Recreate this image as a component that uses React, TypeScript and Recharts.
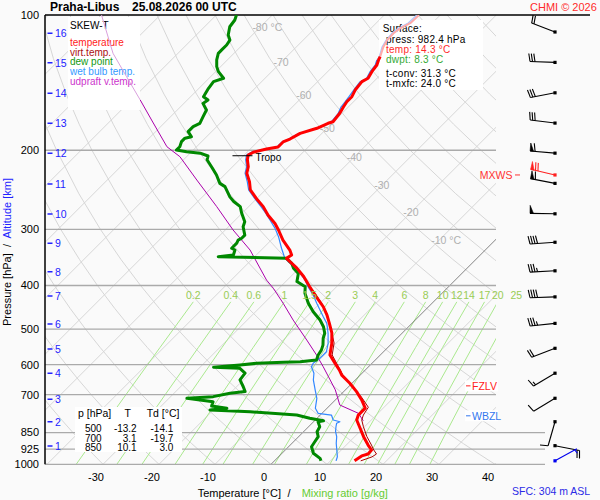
import React from 'react'
import { ComposedChart, Line, Scatter, XAxis, YAxis, ReferenceLine } from 'recharts'

if (typeof document !== 'undefined') document.body.style.margin = '0'

const FONT = '"Liberation Sans", Arial, Helvetica, sans-serif'
const BG = '#fafafa'

// sounding, surface -> top (hPa, °C)
const TEMP_P = [982.4, 958, 948.6, 929.4, 906, 868, 825, 797, 777, 750, 719, 689, 660, 633, 617, 595, 571, 537, 510, 485, 465, 446, 424, 402.5, 382, 366, 354, 348, 342, 333.5, 317, 301, 291, 279, 267, 256, 245, 235, 225, 217.6, 210, 205, 202, 198.7, 196.7, 191.7, 188.8, 183.4, 178.7, 174.2, 172.8, 165.5, 160, 156, 152, 146.9, 140.7, 138.3, 133.7, 129.2, 125.9, 123.8]
const TEMP_C = [14.3, 14.7, 15.5, 15.4, 13.9, 11.6, 9.1, 7.4, 6.8, 6.8, 4.7, 2.3, -0.4, -3.3, -4.6, -6.7, -9.0, -10.8, -12.6, -14.8, -16.7, -18.8, -21.8, -24.8, -27.7, -30.4, -32.8, -34.0, -33.7, -34.9, -37.9, -40.5, -42.3, -45.0, -47.4, -50.1, -52.7, -54.3, -56.3, -57.2, -58.6, -59.3, -58.9, -57.1, -55.4, -55.4, -54.7, -53.9, -51.8, -50.7, -50.1, -50.4, -50.9, -51.2, -51.2, -51.8, -52.1, -51.6, -52.1, -52.4, -53.0, -53.3]
const TEMP_TOP_P = [123.8, 117.6, 113.7, 109.8, 107.1, 104.3, 100]
const TEMP_TOP_C = [-53.3, -54.5, -55.0, -55.1, -54.8, -53.9, -53.8]

const VIRT_P = [982.4, 963, 948.6, 929.4, 906, 868, 825, 797, 777, 746.6, 708, 666, 633, 595, 571, 537, 510, 485, 465, 446, 424, 402.5]
const VIRT_C = [15.4, 16.7, 17.0, 15.8, 14.5, 12.2, 9.8, 8.3, 7.7, 7.2, 4.1, 0.1, -3.1, -6.4, -8.6, -10.4, -12.6, -14.8, -16.6, -18.7, -21.6, -24.7]

const DEW_P = [982.4, 970, 945, 914, 891, 868, 846, 825, 804, 800, 790, 777, 764, 757, 750, 742, 726, 713, 707, 695, 689, 672, 649, 627, 611.5, 608, 601, 596, 593, 591, 586, 571, 557, 543, 524, 511, 494, 477.5, 457.6, 438, 416, 402.5, 392, 376, 366, 357, 348, 345, 342, 333.5, 330.5, 322, 317, 314, 309, 296, 288.5, 276, 267, 260, 254, 241, 237, 227, 219, 210, 206, 203, 201.5, 199.8, 196.4, 191.4, 188, 186.6, 181.8, 177.2, 174.2, 168.4, 162.7, 157.3, 154.6, 152, 145.6, 140.7, 138.3, 133.7, 130.3, 125.9, 121.7, 119.6, 116.6, 113.7, 110.8, 106.2, 102.6, 100]
const DEW_C = [8.3, 7.7, 5.6, 4.1, 3.8, 3.5, 2.4, 2.0, 0.8, 1.6, -1.3, -4.2, -13.1, -20.6, -17.9, -21.0, -21.5, -26.8, -22.4, -20.0, -17.6, -18.8, -20.6, -20.9, -22.7, -27.6, -23.3, -20.6, -16.0, -13.1, -10.5, -11.1, -11.4, -12.0, -13.2, -13.8, -15.2, -17.0, -19.7, -22.1, -24.5, -25.6, -28.0, -29.2, -31.0, -32.2, -34.0, -46.5, -44.1, -44.7, -45.6, -45.6, -45.9, -45.6, -45.6, -47.4, -48.0, -50.1, -51.5, -53.6, -55.1, -57.8, -59.3, -61.4, -63.4, -65.8, -66.3, -68.2, -70.9, -73.0, -73.0, -73.6, -73.6, -72.7, -74.2, -74.2, -73.6, -74.2, -74.8, -76.6, -76.3, -77.7, -78.3, -78.6, -77.4, -79.5, -80.7, -81.9, -82.8, -82.8, -82.8, -83.1, -84.3, -85.5, -85.8, -86.4]

const WET_P = [982.4, 962, 929.4, 898, 868, 846, 825, 810.6, 804, 797, 777, 770, 750, 713, 683, 649, 627, 606.5, 596, 581, 561.7, 538, 511, 485.7, 469.6, 453.6, 438, 420, 402.5, 389, 366, 354, 348, 330.5, 311.5, 298.5, 286, 276, 267, 256, 245, 235, 225, 217.6, 210, 205, 202, 198.7, 196.7, 191.7, 188.8, 184, 179.4, 174.9, 173.1, 166.1, 160.3, 156.2, 152.2, 147.6, 140.9, 138.8, 133.9, 129.2, 125.9]
const WET_C = [11.0, 10.5, 9.2, 7.9, 6.8, 5.7, 4.9, 4.4, 4.7, 3.2, 2.0, -0.7, -2.1, -3.6, -5.4, -7.5, -8.6, -10.2, -10.5, -10.2, -10.2, -11.4, -13.2, -15.2, -17.0, -18.8, -20.6, -22.7, -25.1, -26.8, -30.5, -33.1, -34.3, -36.7, -39.3, -41.4, -43.8, -45.8, -47.8, -50.4, -53.0, -54.7, -56.6, -57.5, -58.9, -59.6, -59.2, -57.4, -55.6, -55.6, -54.9, -54.2, -52.0, -50.9, -50.4, -50.6, -51.3, -51.5, -51.7, -52.0, -52.4, -51.8, -52.4, -52.7, -53.3]
const WET_TOP_P = [125.9, 124, 117.8, 113.7, 109.7, 106.9, 104.2, 100]
const WET_TOP_C = [-53.3, -53.4, -54.7, -55.2, -55.4, -55.1, -54.3, -54.2]

const PARCEL_P = [800, 770, 738, 683, 649, 606.5, 571, 529, 477.5, 438, 405.8, 389, 333.5, 301, 267, 233, 206.7, 196.4, 171.3, 154.6]
const PARCEL_C = [8.7, 6.5, 1.7, -1.8, -4.5, -8.1, -11.4, -15.8, -21.8, -26.6, -31.0, -33.7, -42.0, -48.6, -55.7, -64.0, -71.2, -75.3, -82.8, -88.4]
const PARCEL_TOP_P = [154.6, 137.2, 121.7, 100]
const PARCEL_TOP_C = [-88.4, -95.0, -101.6, -110.5]

// wind (hPa, deg, kt)
const WIND_P = [109.1, 127.5, 149, 174, 203, 237, 277, 320.5, 371, 424, 485.7, 551.9, 627, 713, 804, 909]
const WIND_DIR = [291, 272, 259, 277, 275, 281, 271, 266, 267, 268, 264, 249, 239, 239, 196, 101]
const WIND_KT = [20, 30, 30, 30, 60, 60, 50, 40, 35, 40, 35, 20, 15, 10, 10, 20]
const MXWS_WIND = [227, 283, 70]
const SFC_WIND = [982.4, 61, 5]

const TROPO_P = 205.7
const TROPO_T = -59.3
const FZLV_P = 669
const WBZL_P = 780

const ALT_KM = [1, 2, 3, 4, 5, 6, 7, 8, 9, 10, 11, 12, 13, 14, 15, 16]
const ALT_P = [910.6, 803.9, 716.7, 627.4, 554, 487.3, 422.1, 372.6, 322.2, 277.3, 237.8, 203.2, 174.2, 149.4, 127.7, 109.8]

const TABLE_P = [500, 700, 850]
const TABLE_T = [-13.2, 3.1, 10.1]
const TABLE_TD = [-14.1, -19.7, 3.0]

// diagram grid
const Y_TICKS = [100, 200, 300, 400, 500, 600, 700, 850, 925, 1000]
const X_TICKS = [-30, -20, -10, 0, 10, 20, 30, 40]
const ISOBARS = [200, 300, 400, 500, 600, 700, 850, 925, 1000]
const ISOTHERMS = [-120, -110, -100, -90, -80, -70, -60, -50, -40, -30, -20, -10, 0, 10, 20, 30, 40]
const DRY_ADIABATS = [-40, -30, -20, -10, 0, 10, 20, 30, 40, 50, 60, 70, 80, 90, 100, 110, 120, 130, 140, 150, 160, 170, 180]
const MIX_RATIOS = [0.2, 0.4, 0.6, 1, 1.5, 2, 3, 4, 6, 8, 10, 12, 14, 17, 20, 25]
const GRID_P = [1000, 950, 900, 850, 800, 750, 700, 650, 600, 550, 500, 450, 400, 350, 300, 250, 200, 175, 150, 125, 100]
const MIX_P = [1000, 850, 700, 550, 435]
const ISO_LABEL_T = [-80, -70, -60, -50, -40, -30, -20, -10]
const ISO_LABEL_P = [106.3, 127.4, 151, 178.5, 207, 239.5, 275, 317]

// skew-T geometry: 5.6 px per °C, 449.3 px per decade of pressure, 45° skew
const SKEW = 449.3 / 5.6
const sk = (t: number, p: number) => t + 1.25 + SKEW * Math.log10(1000 / p)
const toU = (px: number) => (px - 264) / 5.6
const U_LEFT = toU(45)
const U_GRID_RIGHT = toU(496)
const U_FULL_RIGHT = toU(600)

const profile = (ps: number[], ts: number[]) => ps.map((p, i) => ({ p, x: sk(ts[i], p) }))
const dryAdiabat = (t0: number) => GRID_P.map(p => ({ p, x: sk((t0 + 273.15) * Math.pow(p / 1000, 0.2857) - 273.15, p) }))
const dewFromMix = (w: number, p: number) => {
  const a = Math.log((w * p) / (622 + w) / 6.112)
  return (243.5 * a) / (17.67 - a)
}

const Txt = ({ x, y, size = 10, lh, color = '#000', bold = false, right = false, spacing, children }: any) => {
  const h = lh ?? size + 1
  return (
    <div
      style={{
        position: 'absolute',
        left: right ? x - 60 : x,
        width: right ? 60 : undefined,
        textAlign: right ? 'right' : 'left',
        top: y - h / 2,
        height: h,
        lineHeight: h + 'px',
        fontSize: size,
        fontWeight: bold ? 'bold' : 'normal',
        letterSpacing: spacing,
        color,
        whiteSpace: 'pre'
      }}
    >
      {children}
    </div>
  )
}

const Box = ({ x, y, w, h }: any) => (
  <div style={{ position: 'absolute', left: x, top: y, width: w, height: h, background: '#fff' }} />
)

const IsoLabel = ({ cx, cy, payload }: any) =>
  payload.unit ? (
    <text x={cx - 8} y={cy} fontSize={10.5} fill="#b0b0b0" dominantBaseline="central">{payload.label + ' °C'}</text>
  ) : (
    <text x={cx} y={cy} fontSize={10.5} fill="#b0b0b0" textAnchor="middle" dominantBaseline="central">{payload.label}</text>
  )

const AltLabel = ({ cx, cy, payload }: any) => (
  <g>
    <line x1={cx + 2.5} x2={cx + 7.5} y1={cy} y2={cy} stroke="#2222ff" strokeWidth={1.5} />
    <text x={cx + 10} y={cy} fontSize={10.5} fill="#2222ff" dominantBaseline="central">{payload.km}</text>
  </g>
)

const MixLabel = ({ cx, cy, payload }: any) => (
  <text x={cx} y={cy} fontSize={10.5} fill="#99cc55" textAnchor="middle" dominantBaseline="central">{payload.label}</text>
)

const TropoMark = ({ cx, cy }: any) => (
  <g>
    <line x1={cx - 15} x2={cx + 5} y1={cy} y2={cy} stroke="#000" strokeWidth={1} />
    <text x={cx + 8} y={cy + 2} fontSize={10} fill="#000" dominantBaseline="central">Tropo</text>
  </g>
)

const LevelMark = ({ cx, cy, payload }: any) =>
  payload.side === 'left' ? (
    <g>
      <line x1={cx} x2={cx + 5} y1={cy} y2={cy} stroke={payload.color} strokeWidth={1} />
      <text x={cx - 2.5} y={cy} fontSize={10.5} fill={payload.color} textAnchor="end" dominantBaseline="central">{payload.label}</text>
    </g>
  ) : (
    <g>
      <rect x={cx - 1} y={cy - 5.5} width={33} height={11} fill="#fff" />
      <line x1={cx} x2={cx + 4.5} y1={cy} y2={cy} stroke={payload.color} strokeWidth={1} />
      <text x={cx + 6} y={cy} fontSize={10.5} fill={payload.color} dominantBaseline="central">{payload.label}</text>
    </g>
  )

const Barb = ({ cx, cy, payload }: any) => {
  const { dir, kt, color } = payload
  const r = (dir * Math.PI) / 180
  const vx = Math.sin(r)
  const vy = -Math.cos(r)
  const bx = -vy
  const by = vx
  const ex = cx + vx * 25
  const ey = cy + vy * 25
  const at = (k: number) => [ex - vx * k, ey - vy * k]
  const parts: any[] = []
  let left = kt
  let d = 0
  while (left >= 50) {
    const [x1, y1] = at(d)
    const [x2, y2] = at(d + 3.5)
    parts.push(<polygon key={'f' + d} points={`${x1},${y1} ${x2},${y2} ${x1 + bx * 8},${y1 + by * 8}`} fill={color} stroke={color} strokeWidth={0.6} />)
    d += 5
    left -= 50
  }
  while (left >= 10) {
    const [x1, y1] = at(d)
    parts.push(<line key={'b' + d} x1={x1} y1={y1} x2={x1 + bx * 8 + vx * 1.5} y2={y1 + by * 8 + vy * 1.5} stroke={color} strokeWidth={1.1} />)
    d += 2.5
    left -= 10
  }
  if (left >= 5) {
    if (d === 0) d = 2.5
    const [x1, y1] = at(d)
    parts.push(<line key="h" x1={x1} y1={y1} x2={x1 + bx * 4 + vx * 0.8} y2={y1 + by * 4 + vy * 0.8} stroke={color} strokeWidth={1.1} />)
  }
  return (
    <g>
      <line x1={cx} y1={cy} x2={ex} y2={ey} stroke={color} strokeWidth={1.1} />
      {parts}
      <rect x={cx - 1.6} y={cy - 1.6} width={3.2} height={3.2} fill={color} />
    </g>
  )
}

const gridLine = (key: string, data: any[], stroke: string, width = 1) => (
  <Line key={key} data={data} dataKey="p" type="linear" stroke={stroke} strokeWidth={width} dot={false} activeDot={false} isAnimationActive={false} />
)

const GridChart = () => (
  <ComposedChart width={600} height={500} margin={{ top: 15, right: 104, bottom: 5.7, left: 0 }}>
    <XAxis type="number" dataKey="x" domain={[U_LEFT, U_GRID_RIGHT]} allowDataOverflow ticks={X_TICKS} interval={0}
      axisLine={false} tickLine={false} tickSize={6} tickMargin={3} height={30} tick={{ fontSize: 11, fill: '#000' }} />
    <YAxis type="number" dataKey="p" scale="log" domain={[100, 1000]} reversed allowDataOverflow ticks={Y_TICKS} interval={0}
      width={45} tickLine={false} tickSize={4} tickMargin={2} axisLine={{ stroke: '#000', strokeWidth: 1.5 }} tick={{ fontSize: 11, fill: '#000' }} />
    {DRY_ADIABATS.map(t => gridLine('da' + t, dryAdiabat(t), '#d6d6d6'))}
    {ISOTHERMS.filter(t => t !== 0).map(t => gridLine('it' + t, [{ p: 1000, x: sk(t, 1000) }, { p: 100, x: sk(t, 100) }], '#d6d6d6'))}
    {MIX_RATIOS.map(w => gridLine('mr' + w, MIX_P.map(p => ({ p, x: sk(dewFromMix(w, p), p) })), '#aae88e'))}
    {gridLine('it0', [{ p: 1000, x: sk(0, 1000) }, { p: 100, x: sk(0, 100) }], '#666', 0.8)}
    {ISOBARS.map(p => (
      <ReferenceLine key={'ib' + p} y={p} stroke="#aaaaaa" strokeWidth={1.3} />
    ))}
    <Scatter data={ISO_LABEL_T.map((t, i) => ({ x: sk(t, ISO_LABEL_P[i]), p: ISO_LABEL_P[i], label: String(t), unit: t === -80 || t === -10 }))}
      shape={(s: any) => <IsoLabel {...s} />} isAnimationActive={false} />
    <Scatter data={ALT_KM.map((km, i) => ({ x: U_LEFT, p: ALT_P[i], km }))} shape={(s: any) => <AltLabel {...s} />} isAnimationActive={false} />
  </ComposedChart>
)

const seriesLine = (key: string, data: any[], stroke: string, width: number) => (
  <Line key={key} data={data} dataKey="p" type="linear" stroke={stroke} strokeWidth={width} strokeLinejoin="round" dot={false} activeDot={false} isAnimationActive={false} />
)

const DataChart = () => {
  const winds = WIND_P.map((p, i) => ({ x: toU(555), p, dir: WIND_DIR[i], kt: WIND_KT[i], color: '#000' }))
  winds.push({ x: toU(555), p: MXWS_WIND[0], dir: MXWS_WIND[1], kt: MXWS_WIND[2], color: '#ff2020' })
  winds.push({ x: toU(555), p: SFC_WIND[0], dir: SFC_WIND[1], kt: SFC_WIND[2], color: '#0000ee' })
  const marks = [
    { x: toU(515), p: MXWS_WIND[0], label: 'MXWS', color: '#ff3333', side: 'left' },
    { x: toU(466), p: FZLV_P, label: 'FZLV', color: '#ff2020', side: 'right' },
    { x: toU(466), p: WBZL_P, label: 'WBZL', color: '#3377ee', side: 'right' }
  ]
  return (
    <ComposedChart width={600} height={500} margin={{ top: 15, right: 0, bottom: 35.7, left: 45 }}>
      <XAxis type="number" dataKey="x" domain={[U_LEFT, U_FULL_RIGHT]} allowDataOverflow hide height={0} />
      <YAxis type="number" dataKey="p" scale="log" domain={[100, 1000]} reversed allowDataOverflow hide width={0} />
      <ReferenceLine segment={[{ x: U_LEFT, y: 100 }, { x: toU(590), y: 100 }]} stroke="#000" strokeWidth={1.5} />
      {[850, 925, 1000].map(p => (
        <ReferenceLine key={'ext' + p} segment={[{ x: U_GRID_RIGHT, y: p }, { x: toU(545), y: p }]} stroke="#aaaaaa" strokeWidth={1.3} />
      ))}
      {seriesLine('parcel-top', profile(PARCEL_TOP_P, PARCEL_TOP_C), '#d9a0dd', 1)}
      {seriesLine('parcel', profile(PARCEL_P, PARCEL_C), '#aa00aa', 1)}
      {seriesLine('wet-top', profile(WET_TOP_P, WET_TOP_C), '#a8c8ff', 1.2)}
      {seriesLine('wet', profile(WET_P, WET_C), '#3388ff', 1.2)}
      {seriesLine('virt', profile(VIRT_P, VIRT_C), '#aa0000', 1)}
      {seriesLine('dew', profile(DEW_P, DEW_C), '#008800', 3)}
      {seriesLine('temp-top', profile(TEMP_TOP_P, TEMP_TOP_C), '#ffaaaa', 2)}
      {seriesLine('temp', profile(TEMP_P, TEMP_C), '#ff0000', 3)}
      <Scatter data={MIX_RATIOS.map(w => ({ x: sk(dewFromMix(w, 435), 435), p: 420, label: String(w) }))}
        shape={(s: any) => <MixLabel {...s} />} isAnimationActive={false} />
      <Scatter data={[{ x: sk(TROPO_T, TROPO_P), p: TROPO_P }]} shape={(s: any) => <TropoMark {...s} />} isAnimationActive={false} />
      <Scatter data={marks} shape={(s: any) => <LevelMark {...s} />} isAnimationActive={false} />
      <Scatter data={winds} shape={(s: any) => <Barb {...s} />} isAnimationActive={false} />
    </ComposedChart>
  )
}

export default function App() {
  return (
    <div style={{ position: 'relative', width: 600, height: 500, background: BG, fontFamily: FONT, overflow: 'hidden' }}>
      <div style={{ position: 'absolute', left: 0, top: 0 }}>
        <GridChart />
      </div>

      <Box x={68} y={17} w={72} h={93} />
      <Txt x={70} y={26} lh={9.5}>SKEW-T</Txt>
      <Txt x={70} y={42.3} lh={9.5} color="#ff1a1a">temperature</Txt>
      <Txt x={70} y={52.3} lh={9.5} color="#aa1111">virt.temp.</Txt>
      <Txt x={70} y={62} lh={9.5} color="#119911">dew point</Txt>
      <Txt x={70} y={72} lh={9.5} color="#3399ff">wet bulb temp.</Txt>
      <Txt x={70} y={82} lh={9.5} color="#cc33cc">udpraft v.temp.</Txt>

      <Box x={379} y={20} w={104} h={70} />
      <Txt x={382.7} y={28.3} lh={9.5} spacing="0.25px">Surface:</Txt>
      <Txt x={386} y={40} lh={9.5} spacing="0.25px">press: 982.4 hPa</Txt>
      <Txt x={386} y={50} lh={9.5} spacing="0.25px" color="#ff2b2b">temp: 14.3 °C</Txt>
      <Txt x={386} y={60} lh={9.5} spacing="0.25px" color="#33aa33">dwpt: 8.3 °C</Txt>
      <Txt x={386} y={74} lh={9.5} spacing="0.25px">t-conv: 31.3 °C</Txt>
      <Txt x={386} y={84} lh={9.5} spacing="0.25px">t-mxfc: 24.0 °C</Txt>

      <Box x={75} y={407} w={107} h={45} />
      <Txt x={78} y={413.3} size={10.5}>p [hPa]</Txt>
      <Txt x={124.5} y={413.3} size={10.5}>T</Txt>
      <Txt x={146.7} y={413.3} size={10.5}>Td [°C]</Txt>
      {TABLE_P.map((p, i) => (
        <React.Fragment key={p}>
          <Txt x={101.7} y={428.7 + i * 9.5} lh={9} right>{String(p)}</Txt>
          <Txt x={136.7} y={428.7 + i * 9.5} lh={9} right>{TABLE_T[i].toFixed(1)}</Txt>
          <Txt x={173.3} y={428.7 + i * 9.5} lh={9} right>{TABLE_TD[i].toFixed(1)}</Txt>
        </React.Fragment>
      ))}

      <div style={{ position: 'absolute', left: 0, top: 0, pointerEvents: 'none' }}>
        <DataChart />
      </div>

      <Txt x={50} y={7} size={12} bold>Praha-Libus</Txt>
      <Txt x={132} y={7} size={12} bold>25.08.2026 00 UTC</Txt>
      <Txt x={530} y={6.7} size={11} color="#ff2b2b">CHMI © 2026</Txt>

      <Txt x={197.7} y={493} size={11}>Temperature [°C]</Txt>
      <Txt x={287.5} y={493} size={11}>/</Txt>
      <Txt x={301.7} y={493} size={11} color="#66cc33">Mixing ratio [g/kg]</Txt>
      <Txt x={512} y={491.7} size={10.5} color="#2b2be6">SFC: 304 m ASL</Txt>

      <div
        style={{
          position: 'absolute',
          left: 7,
          top: 252,
          transform: 'translate(-50%, -50%) rotate(-90deg)',
          fontSize: 11,
          whiteSpace: 'pre',
          lineHeight: '12px'
        }}
      >
        Pressure [hPa]{'  /  '}<span style={{ color: '#2222ff' }}>Altitude [km]</span>
      </div>
    </div>
  )
}
